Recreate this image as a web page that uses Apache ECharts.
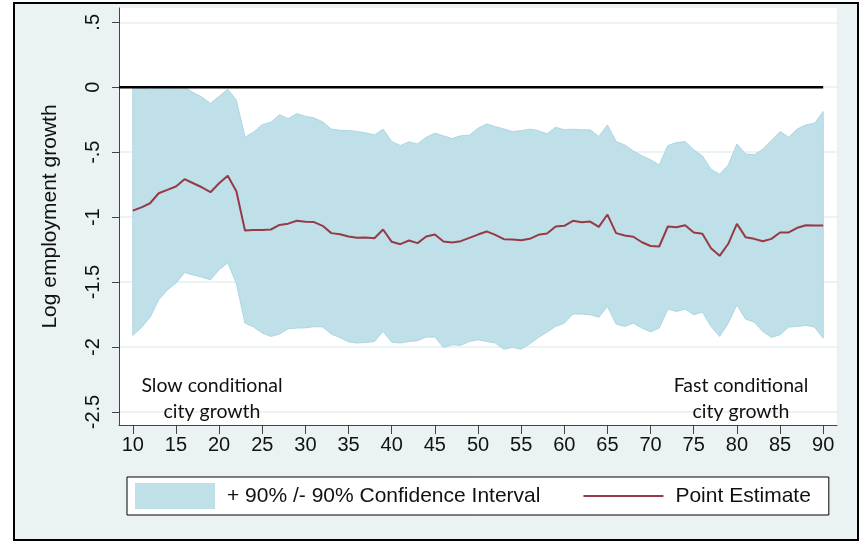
<!DOCTYPE html>
<html><head><meta charset="utf-8">
<script src="https://cdn.jsdelivr.net/npm/echarts@6/dist/echarts.min.js"></script>
<style>html,body{margin:0;padding:0;background:#fff}#c{width:862px;height:543px}</style>
</head><body><div id="c"></div>
<script>
const xs = [10,11,12,13,14,15,16,17,18,19,20,21,22,23,24,25,26,27,28,29,30,31,32,33,34,35,36,37,38,39,40,41,42,43,44,45,46,47,48,49,50,51,52,53,54,55,56,57,58,59,60,61,62,63,64,65,66,67,68,69,70,71,72,73,74,75,76,77,78,79,80,81,82,83,84,85,86,87,88,89,90];
const pointEstimate = [-0.95,-0.925,-0.893,-0.816,-0.79,-0.764,-0.708,-0.739,-0.77,-0.808,-0.739,-0.682,-0.80,-1.103,-1.099,-1.098,-1.095,-1.06,-1.05,-1.028,-1.035,-1.038,-1.067,-1.123,-1.131,-1.149,-1.158,-1.157,-1.162,-1.095,-1.19,-1.208,-1.18,-1.2,-1.149,-1.133,-1.187,-1.195,-1.185,-1.16,-1.134,-1.11,-1.136,-1.17,-1.172,-1.178,-1.167,-1.136,-1.126,-1.072,-1.067,-1.028,-1.039,-1.034,-1.075,-0.98,-1.123,-1.141,-1.151,-1.193,-1.222,-1.226,-1.072,-1.077,-1.062,-1.118,-1.128,-1.239,-1.298,-1.205,-1.051,-1.154,-1.167,-1.185,-1.167,-1.118,-1.118,-1.082,-1.062,-1.064,-1.064];
const ciUpper = [0.0,-0.008,-0.015,0.003,-0.003,-0.003,0.0,-0.04,-0.075,-0.125,-0.07,-0.015,-0.1,-0.385,-0.345,-0.288,-0.27,-0.212,-0.242,-0.203,-0.224,-0.236,-0.267,-0.322,-0.332,-0.333,-0.34,-0.352,-0.367,-0.323,-0.418,-0.449,-0.421,-0.436,-0.385,-0.354,-0.374,-0.395,-0.374,-0.369,-0.316,-0.282,-0.303,-0.321,-0.341,-0.334,-0.323,-0.334,-0.359,-0.308,-0.328,-0.323,-0.328,-0.328,-0.38,-0.29,-0.418,-0.444,-0.49,-0.528,-0.559,-0.598,-0.449,-0.426,-0.418,-0.482,-0.528,-0.631,-0.67,-0.598,-0.436,-0.513,-0.521,-0.477,-0.41,-0.341,-0.385,-0.321,-0.29,-0.277,-0.187];
const ciLower = [-1.91,-1.85,-1.77,-1.636,-1.56,-1.508,-1.426,-1.445,-1.462,-1.482,-1.405,-1.352,-1.51,-1.815,-1.846,-1.892,-1.918,-1.9,-1.859,-1.854,-1.852,-1.843,-1.845,-1.9,-1.927,-1.96,-1.969,-1.964,-1.957,-1.88,-1.962,-1.969,-1.957,-1.951,-1.923,-1.923,-2.003,-1.982,-1.987,-1.957,-1.944,-1.957,-1.969,-2.016,-2.003,-2.016,-1.975,-1.926,-1.885,-1.841,-1.816,-1.746,-1.746,-1.751,-1.77,-1.688,-1.823,-1.841,-1.816,-1.854,-1.883,-1.854,-1.708,-1.726,-1.708,-1.751,-1.731,-1.841,-1.918,-1.816,-1.675,-1.785,-1.808,-1.88,-1.926,-1.905,-1.846,-1.841,-1.833,-1.846,-1.931];
const xTicks = [10,15,20,25,30,35,40,45,50,55,60,65,70,75,80,85,90];
const yTicks = [-2.5,-2,-1.5,-1,-0.5,0,0.5];
const zeroLine = [[8.4,0],[90,0]];
const ciName = '+ 90% /- 90% Confidence Interval';
const peName = 'Point Estimate';
const leftNote = 'Slow conditional\ncity growth';
const rightNote = 'Fast conditional\ncity growth';

const FONT = "'Liberation Sans', Arial, sans-serif";
const BAND = '#bfe0e9', BAND_EDGE = '#acd6e2', RED = '#963a46';
const chart = echarts.init(document.getElementById('c'), null, {renderer:'canvas'});
const fmt = v => String(v).replace(/^(-?)0\./, '$1.');
chart.setOption({
  backgroundColor: '#ffffff',
  animation: false,
  graphic: [
    {type:'rect', z:-10, shape:{x:14,y:3,width:844,height:537}, style:{fill:'#eaf2f3', stroke:'#000', lineWidth:2}},
    {type:'text', z:100, x:212, y:373, style:{text:leftNote, font:"19.5px Lato, sans-serif", fill:'#111', align:'center', lineHeight:26}},
    {type:'text', z:100, x:741, y:373, style:{text:rightNote, font:"19.5px Lato, sans-serif", fill:'#111', align:'center', lineHeight:26}}
  ],
  grid: {left:119, right:25, top:8, bottom:118, show:true, backgroundColor:'#ffffff', borderWidth:0},
  legend: {
    left:127, top:477, orient:'horizontal',
    padding:[6,18,6,8], itemGap:43, itemWidth:80, itemHeight:26,
    borderColor:'#000', borderWidth:1, backgroundColor:'#fff',
    textStyle:{fontSize:21, color:'#111', fontFamily:FONT, padding:[0,0,0,7]},
    data:[
      {name:ciName, icon:'rect', itemStyle:{color:BAND, borderWidth:0}},
      {name:peName, icon:'path://M0,0H80V2H0Z', itemStyle:{color:RED, borderWidth:0}}
    ]
  },
  xAxis: {
    type:'value', min:8.4, max:91.6,
    axisLine:{show:true, onZero:false, lineStyle:{color:'#444', width:1}},
    axisTick:{show:true, customValues:xTicks, length:9, lineStyle:{color:'#444'}},
    axisLabel:{customValues:xTicks, fontSize:20, color:'#111', fontFamily:FONT, margin:10},
    splitLine:{show:false}
  },
  yAxis: {
    type:'value', min:-2.6, max:0.61,
    name:'Log employment growth', nameLocation:'middle', nameGap:58,
    nameTextStyle:{fontSize:21, color:'#111', fontFamily:FONT},
    axisLine:{show:true, onZero:false, lineStyle:{color:'#444', width:1}},
    axisTick:{show:true, customValues:yTicks, length:7, lineStyle:{color:'#444'}},
    axisLabel:{customValues:yTicks, rotate:90, fontSize:20, color:'#111', fontFamily:FONT, margin:16, formatter:fmt},
    splitLine:{show:true, lineStyle:{color:'#e6eff1', width:1.5}}
  },
  series: [
    {type:'custom', name:ciName, coordinateSystem:'cartesian2d', silent:true, z:2,
     data: xs.map((x,i)=>[x, ciLower[i], ciUpper[i]]),
     encode:{x:0, y:[1,2]},
     itemStyle:{color:BAND},
     renderItem:(params, api)=>{
       if (params.dataIndex !== 0) return null;
       const top = xs.map((x,i)=>api.coord([x, ciUpper[i]]));
       const bot = xs.map((x,i)=>api.coord([x, ciLower[i]])).reverse();
       return {type:'polygon', shape:{points: top.concat(bot)}, style:{fill:BAND, stroke:BAND_EDGE, lineWidth:1}};
     }},
    {type:'line', name:'zero', symbol:'none', silent:true, data:zeroLine, lineStyle:{color:'#000', width:2.5}, z:3},
    {type:'line', name:peName, symbol:'none', showSymbol:false, silent:true, data: xs.map((x,i)=>[x, pointEstimate[i]]),
     lineStyle:{color:RED, width:2}, itemStyle:{color:RED}, z:4}
  ]
});
</script></body></html>
